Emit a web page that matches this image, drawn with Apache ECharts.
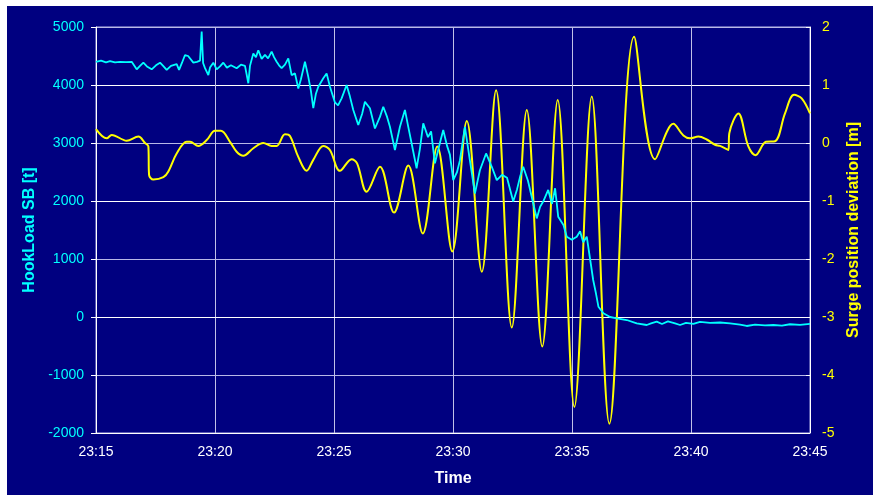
<!DOCTYPE html>
<html>
<head>
<meta charset="utf-8">
<script src="https://cdn.jsdelivr.net/npm/echarts@6/dist/echarts.min.js"></script>
<style>
  html, body { margin: 0; padding: 0; background: #fff; }
  #chart { position: absolute; left: 7px; top: 6px; width: 866px; height: 489px; background: #000080; }
</style>
</head>
<body>
<div id="chart"></div>
<script>
// minutes after 23:15
const timeLabels = ['23:15', '23:20', '23:25', '23:30', '23:35', '23:40', '23:45']

const hookTime = [0, 0.21, 0.42, 0.59, 0.80, 1.01, 1.26, 1.50, 1.71, 1.85, 1.99, 2.14, 2.34, 2.52, 2.69, 2.82, 2.97, 3.15, 3.39, 3.49,
  3.61, 3.74, 3.87, 3.95, 4.09, 4.24, 4.37, 4.44, 4.50, 4.58, 4.72, 4.79, 4.93, 5.07, 5.21, 5.35, 5.50, 5.67, 5.91, 6.09,
  6.26, 6.40, 6.47, 6.61, 6.72, 6.82, 6.96, 7.10, 7.23, 7.38, 7.48, 7.59, 7.69, 7.80, 7.94, 8.08, 8.22, 8.36, 8.50, 8.61,
  8.78, 8.92, 9.03, 9.13, 9.24, 9.34, 9.55, 9.69, 9.83, 10.04, 10.17, 10.32, 10.53, 10.67, 10.81, 11.02, 11.18, 11.30, 11.51, 11.72,
  11.93, 12.07, 12.23, 12.35, 12.56, 12.77, 12.98, 13.11, 13.26, 13.47, 13.61, 13.75, 13.95, 14.08, 14.24, 14.45, 14.59, 14.75, 14.87, 15.01,
  15.17, 15.29, 15.50, 15.71, 15.92, 16.13, 16.39, 16.63, 16.84, 17.06, 17.27, 17.53, 17.69, 17.82, 17.95, 18.15, 18.37, 18.52, 18.66, 18.79,
  19.00, 19.16, 19.29, 19.42, 19.64, 19.78, 19.99, 20.20, 20.34, 20.47, 20.62, 20.76, 20.89, 21.01, 21.11, 21.32, 21.60, 21.88, 22.30, 22.72,
  23.14, 23.32, 23.56, 23.78, 24.03, 24.33, 24.54, 24.79, 25.10, 25.38, 25.80, 26.22, 26.64, 27.06, 27.34, 27.69, 28.11, 28.46, 28.82, 29.16,
  29.58, 30.00]
const hookLoad = [4400, 4420, 4390, 4410, 4390, 4400, 4395, 4400, 4270, 4330, 4385, 4320, 4270, 4340, 4385, 4330, 4260, 4330, 4360, 4260,
  4380, 4517, 4500, 4470, 4385, 4400, 4420, 4920, 4380, 4290, 4172, 4300, 4385, 4270, 4320, 4385, 4300, 4340, 4290, 4350,
  4330, 4030, 4330, 4545, 4480, 4600, 4450, 4520, 4460, 4575, 4480, 4400, 4340, 4290, 4350, 4460, 4170, 4200, 3940, 4100,
  4400, 4140, 3900, 3600, 3850, 3970, 4115, 4200, 3970, 3700, 3650, 3770, 4000, 3800, 3570, 3310, 3500, 3710, 3600, 3250,
  3450, 3625, 3450, 3280, 2880, 3280, 3570, 3300, 2995, 2565, 2900, 3340, 3100, 3200, 2650, 3000, 3225, 2950, 2800, 2360,
  2500, 2700, 3280, 2700, 2130, 2530, 2820, 2590, 2360, 2450, 2400, 1990, 2200, 2420, 2590, 2350, 1960, 1700, 1900, 1990,
  2190, 1950, 2220, 1730, 1585, 1385, 1330, 1385, 1480, 1290, 1385, 1000, 638, 400, 178, 64, 0, -22, -52, -109,
  -138, -110, -81, -120, -75, -110, -138, -100, -120, -85, -100, -95, -110, -130, -155, -130, -145, -138, -150, -125,
  -135, -120]

const surgeTime = [0, 0.45, 0.66, 1.29, 1.78, 2.06, 2.20, 2.23, 2.41, 2.83, 3.04, 3.39, 3.81, 3.95, 4.30, 4.65, 5.00, 5.25, 5.63, 5.91,
  6.19, 6.61, 7.03, 7.38, 7.59, 7.94, 8.15, 8.50, 8.85, 9.13, 9.55, 9.83, 10.25, 10.74, 10.97, 11.37, 11.93, 12.52, 13.12, 13.73,
  14.34, 14.97, 15.58, 16.21, 16.81, 17.47, 18.10, 18.75, 19.40, 20.10, 20.83, 21.57, 22.61, 23.49, 24.26, 24.68, 24.96, 25.31, 25.66, 26.01,
  26.22, 26.57, 26.61, 26.99, 27.41, 27.71, 28.15, 28.53, 28.95, 29.33, 29.65, 30.00]
const surgeDev = [0.24, 0.08, 0.14, 0.04, 0.11, 0.00, -0.06, -0.55, -0.63, -0.59, -0.49, -0.18, 0.02, 0.02, -0.05, 0.05, 0.21, 0.21, 0.02, -0.15,
  -0.22, -0.09, 0.00, -0.05, -0.05, 0.15, 0.12, -0.24, -0.48, -0.29, -0.05, -0.12, -0.48, -0.28, -0.35, -0.84, -0.41, -1.20, -0.39, -1.56,
  -0.06, -1.87, 0.38, -2.22, 0.91, -3.18, 0.57, -3.51, 0.74, -4.55, 0.80, -4.84, 1.83, -0.28, 0.33, 0.13, 0.08, 0.11, 0.06, -0.03,
  -0.05, -0.12, 0.17, 0.51, -0.06, -0.21, 0.02, 0.03, 0.51, 0.83, 0.77, 0.51]

const zip = (xs, ys) => xs.map((x, i) => [x, ys[i]])

const chart = echarts.init(document.getElementById('chart'))

const labelFont = { fontFamily: 'Liberation Sans, Arial, sans-serif', fontSize: 14 }
const nameFont = { fontFamily: 'Liberation Sans, Arial, sans-serif', fontSize: 16, fontWeight: 'bold' }

chart.setOption({
  animation: false,
  grid: {
    left: 89, top: 21, right: 63, bottom: 62,
    show: true, borderColor: '#b8b8e8', borderWidth: 1
  },
  xAxis: {
    type: 'value', min: 0, max: 30, interval: 5,
    name: 'Time', nameLocation: 'middle', nameGap: 38,
    nameTextStyle: Object.assign({ color: '#fff' }, nameFont),
    axisLine: { lineStyle: { color: '#fff', width: 1 } },
    axisTick: { show: false },
    axisLabel: Object.assign({ color: '#fff', margin: 12, formatter: v => timeLabels[Math.round(v / 5)] }, labelFont),
    splitLine: { lineStyle: { color: '#c0c0e8', width: 1 } }
  },
  yAxis: [{
    type: 'value', min: -2000, max: 5000, interval: 1000,
    name: 'HookLoad SB [t]', nameLocation: 'middle', nameGap: 57, nameRotate: 90,
    nameTextStyle: Object.assign({ color: '#00ffff' }, nameFont),
    axisLine: { show: true, lineStyle: { color: '#fff' } },
    axisTick: { show: true, length: 5, lineStyle: { color: '#fff' } },
    axisLabel: Object.assign({ color: '#00ffff', margin: 12, formatter: v => String(v) }, labelFont),
    splitLine: { lineStyle: { color: ['#ffffff', '#b8b8e8'], width: 1 } }
  }, {
    type: 'value', min: -5, max: 2, interval: 1, position: 'right',
    name: 'Surge position deviation [m]', nameLocation: 'middle', nameGap: 30, nameRotate: 90,
    nameTextStyle: Object.assign({ color: '#ffff00' }, nameFont),
    axisLine: { show: true, lineStyle: { color: '#fff' } },
    axisTick: { show: true, inside: true, length: 4, lineStyle: { color: '#fff' } },
    axisLabel: Object.assign({ color: '#ffff00', margin: 12 }, labelFont),
    splitLine: { show: false }
  }],
  series: [{
    name: 'HookLoad SB',
    type: 'line',
    yAxisIndex: 0,
    data: zip(hookTime, hookLoad),
    showSymbol: false,
    lineStyle: { color: '#00ffff', width: 1.8 },
    z: 3
  }, {
    name: 'Surge position deviation',
    type: 'line',
    yAxisIndex: 1,
    data: zip(surgeTime, surgeDev),
    showSymbol: false,
    smooth: 0.35,
    lineStyle: { color: '#ffff00', width: 2 },
    z: 2
  }]
})
</script>
</body>
</html>
